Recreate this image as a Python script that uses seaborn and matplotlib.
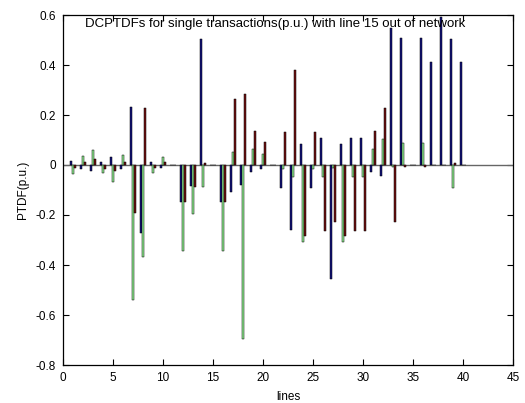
import numpy as np
import pandas as pd
import matplotlib
matplotlib.use("Agg")
import matplotlib.pyplot as plt
import seaborn as sns

lines = list(range(1, 41))
blue = [0.017, -0.017, -0.025, 0.013, 0.032, -0.017, 0.232, -0.271, 0.013, -0.013,
        0.0, -0.150, -0.083, 0.503, 0.0, -0.150, -0.107, -0.080, -0.027, -0.018,
        0.0, -0.091, -0.260, 0.083, -0.091, 0.109, -0.457, 0.083, 0.109, 0.109,
        -0.027, -0.044, 0.547, 0.507, 0.0, 0.507, 0.411, 0.593, 0.503, 0.411]
green = [-0.037, 0.037, 0.059, -0.031, -0.067, 0.039, -0.540, -0.369, -0.031, 0.032,
         0.0, -0.344, -0.197, -0.090, 0.0, -0.344, 0.051, -0.697, 0.064, 0.044,
         0.0, -0.018, -0.049, -0.309, -0.017, -0.049, -0.013, -0.309, -0.049, -0.049,
         0.064, 0.103, -0.010, 0.087, 0.0, 0.087, 0.0, 0.0, -0.091, 0.0]
red = [-0.013, 0.013, 0.024, -0.015, -0.025, 0.013, -0.193, 0.227, -0.013, 0.013,
       0.0, -0.150, -0.087, 0.009, 0.0, -0.150, 0.263, 0.285, 0.137, 0.091,
       0.0, 0.133, 0.380, -0.284, 0.132, -0.263, -0.229, -0.284, -0.263, -0.263,
       0.137, 0.227, -0.229, -0.010, 0.0, -0.010, 0.0, 0.0, 0.009, 0.0]
series_names = ["s1", "s2", "s3"]
colors = ["#00008F", "#80FF80", "#800000"]

xticks = [0, 5, 10, 15, 20, 25, 30, 35, 40, 45]
yticks = [-0.8, -0.6, -0.4, -0.2, 0, 0.2, 0.4, 0.6]
ytick_labels = ["-0.8", "-0.6", "-0.4", "-0.2", "0", "0.2", "0.4", "0.6"]
title = "DCPTDFs for single transactions(p.u.) with line 15 out of network"

df = pd.DataFrame({
    "line": lines * 3,
    "series": [series_names[0]] * 40 + [series_names[1]] * 40 + [series_names[2]] * 40,
    "value": blue + green + red,
})

sns.set_style("ticks")
plt.rcParams["font.family"] = ["Liberation Sans", "DejaVu Sans"]
plt.rcParams["text.color"] = "black"
plt.rcParams["axes.labelcolor"] = "black"
plt.rcParams["xtick.color"] = "black"
plt.rcParams["ytick.color"] = "black"

fig = plt.figure(figsize=(5.25, 4.03), dpi=100)
ax = fig.add_axes([63 / 525, 1 - 365 / 403, 450 / 525, 350 / 403])

sns.barplot(data=df, x="line", y="value", hue="series", palette=colors,
            native_scale=True, width=0.667, gap=0.15, errorbar=None,
            edgecolor="black", linewidth=0.35, legend=False, ax=ax, zorder=3)

ax.axhline(0, color="0.4", lw=1.0, zorder=2)
ax.set_xlim(0, 45)
ax.set_ylim(-0.8, 0.6)
ax.set_xticks(xticks)
ax.set_xticklabels([str(t) for t in xticks], fontsize=8.5)
ax.set_yticks(yticks)
ax.set_yticklabels(ytick_labels, fontsize=8.5)
ax.tick_params(direction="in", length=4, width=0.8, top=True, right=True, pad=5)
for s in ax.spines.values():
    s.set_visible(True)
    s.set_linewidth(0.9)
    s.set_color("black")

ax.set_xlabel("lines", fontsize=8.5, labelpad=5)
ax.set_ylabel("PTDF(p.u.)", fontsize=8.5, labelpad=5)
ax.text(0.471, 0.99, title, transform=ax.transAxes, ha="center", va="top",
        fontsize=9.5, zorder=5)

fig.savefig("out.png", dpi=100)
